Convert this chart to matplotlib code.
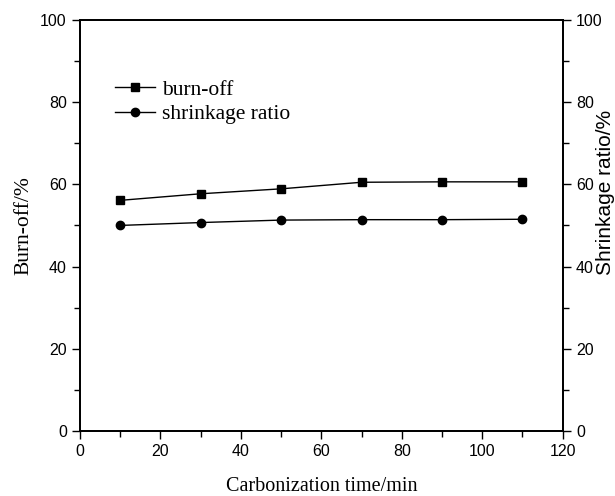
"""
Burn-off and shrinkage ratio vs carbonization time
"""

import numpy as np
import matplotlib
matplotlib.use("Agg")
import matplotlib.pyplot as plt
from matplotlib.ticker import MultipleLocator

time_min = [10, 30, 50, 70, 90, 110]
burn_off = [56.1, 57.7, 58.9, 60.5, 60.6, 60.6]
shrinkage = [50.0, 50.7, 51.3, 51.4, 51.4, 51.5]

fig = plt.figure(figsize=[6.15, 4.96], dpi=100)
ax = fig.add_axes([0.130, 0.131, 0.785, 0.829])

ax.plot(time_min, burn_off, color="black", lw=1, marker="s", ms=5.5,
        label="burn-off")
ax.plot(time_min, shrinkage, color="black", lw=1, marker="o", ms=6,
        label="shrinkage ratio")

ax.set_xlim(0, 120)
ax.set_ylim(0, 100)
ax.xaxis.set_major_locator(MultipleLocator(20))
ax.xaxis.set_minor_locator(MultipleLocator(10))
ax.yaxis.set_major_locator(MultipleLocator(20))
ax.yaxis.set_minor_locator(MultipleLocator(10))
ax.tick_params(which="both", direction="out", top=False, labelsize=11.5,
               width=1)
ax.tick_params(which="major", length=6)
ax.tick_params(which="minor", length=4)
for lab in ax.get_xticklabels() + ax.get_yticklabels():
    lab.set_family("Liberation Sans")

ax.set_xlabel("Carbonization time/min", family="Liberation Serif",
              fontsize=14.5, labelpad=13)
ax.set_ylabel("Burn-off/%", family="Liberation Serif", fontsize=15.5,
              labelpad=5)

ax2 = ax.twinx()
ax2.set_ylim(0, 100)
ax2.yaxis.set_major_locator(MultipleLocator(20))
ax2.yaxis.set_minor_locator(MultipleLocator(10))
ax2.tick_params(which="both", direction="out", labelsize=11.5, width=1)
ax2.tick_params(which="major", length=6)
ax2.tick_params(which="minor", length=4)
for lab in ax2.get_yticklabels():
    lab.set_family("Liberation Sans")
ax2.set_ylabel("Shrinkage ratio/%", family="Liberation Sans", fontsize=15,
               labelpad=-5)
ax2.yaxis.label.set_y(0.58)

for a in (ax, ax2):
    for s in a.spines.values():
        s.set_linewidth(1.3)

ax.legend(loc="center left", bbox_to_anchor=(0.0725, 0.80), frameon=False,
          borderpad=0, borderaxespad=0, handlelength=1.85,
          handletextpad=0.35, labelspacing=0.2,
          prop={"family": "Liberation Serif", "size": 15.5})

plt.savefig("out.png", dpi=100)
